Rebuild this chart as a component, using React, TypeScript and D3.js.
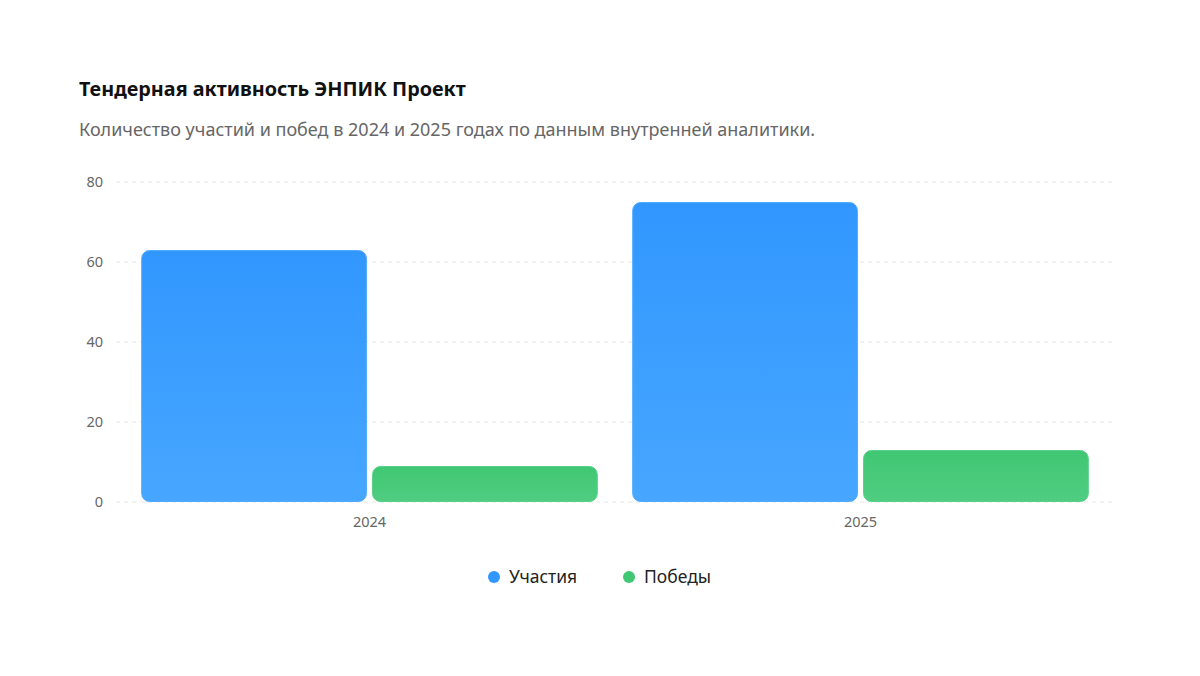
import React from "react";
import * as d3 from "d3";

const categories = ["2024", "2025"];
const seriesNames = ["Участия", "Победы"];
const seriesParticipations = [63, 75];
const seriesWins = [9, 13];
const yTicks = [0, 20, 40, 60, 80];
const title = "Тендерная активность ЭНПИК Проект";
const subtitle = "Количество участий и побед в 2024 и 2025 годах по данным внутренней аналитики.";

const colors = [
  { top: "#3197ff", bottom: "#47a6ff", stroke: "#52abff" },
  { top: "#40c773", bottom: "#4fcd81", stroke: "#5ad08a" },
];

export default function App() {
  const W = 1200, H = 676;
  const font = "'Segoe UI', 'Noto Sans', 'Open Sans', sans-serif";
  const y = d3.scaleLinear().domain([0, 80]).range([502, 182]);
  const x0 = d3.scaleBand().domain(categories).range([124, 1106]).paddingInner(0.07).paddingOuter(0.035);
  const x1 = d3.scaleBand().domain(seriesNames).range([0, x0.bandwidth()]).paddingInner(0.022);
  const data = [seriesParticipations, seriesWins];
  return (
    <svg width={W} height={H} style={{ position: "absolute", left: 0, top: 0, background: "#fff" }}>
      <defs>
        {colors.map((c, i) => (
          <linearGradient key={i} id={`g${i}`} x1="0" y1="0" x2="0" y2="1">
            <stop offset="0%" stopColor={c.top} />
            <stop offset="100%" stopColor={c.bottom} />
          </linearGradient>
        ))}
      </defs>
      <text x={79} y={96} fontFamily={font} fontSize={19.8} fontWeight={700} fill="#111">{title}</text>
      <text x={79} y={136} fontFamily={font} fontSize={18} fill="#666">{subtitle}</text>
      {yTicks.map((t) => (
        <g key={t}>
          <line x1={116} x2={1115} y1={y(t)} y2={y(t)} stroke="#e6e6e6" strokeDasharray="4 4" />
          <text x={103} y={y(t)} dy="0.35em" textAnchor="end" fontFamily={font} fontSize={14.5} fill="#666">{t}</text>
        </g>
      ))}
      {categories.map((c, ci) => (
        <g key={c} transform={`translate(${x0(c)},0)`}>
          {seriesNames.map((s, si) => {
            const v = data[si][ci];
            const bx = x1(s)!;
            return (
              <rect key={s} x={bx + 0.5} y={y(v) + 0.5} width={x1.bandwidth() - 1} height={y(0) - y(v) - 1}
                rx={8} ry={8} fill={`url(#g${si})`} stroke={colors[si].stroke} strokeWidth={1} />
            );
          })}
          <text x={x0.bandwidth() / 2} y={527} textAnchor="middle" fontFamily={font} fontSize={14.5} fill="#666">{c}</text>
        </g>
      ))}
      {seriesNames.map((s, i) => {
        const lx = [494, 629][i];
        return (
          <g key={s}>
            <circle cx={lx} cy={577} r={6} fill={colors[i].top} />
            <text x={lx + 15} y={577} dy="0.35em" fontFamily={font} fontSize={17.5} fill="#222">{s}</text>
          </g>
        );
      })}
    </svg>
  );
}
